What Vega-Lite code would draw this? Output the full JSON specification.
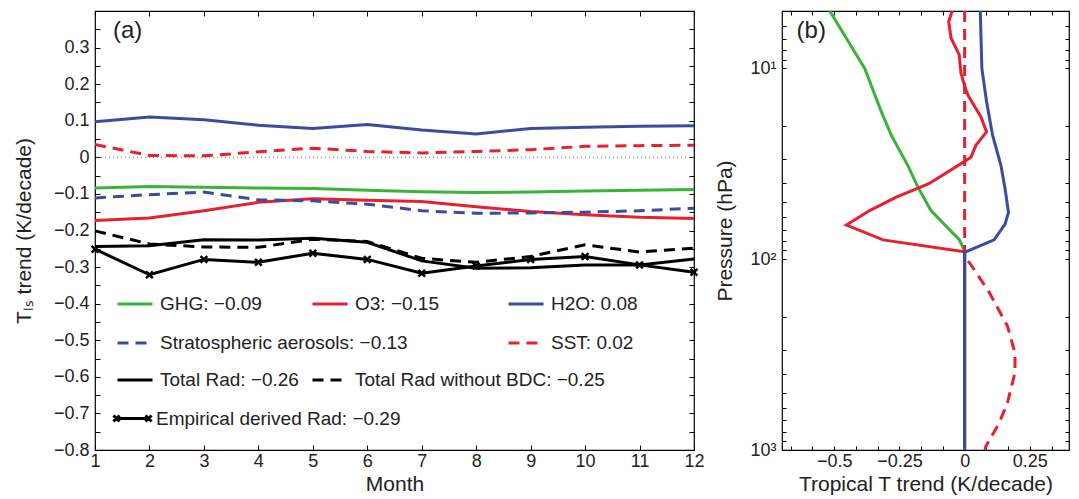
{
  "$schema": "https://vega.github.io/schema/vega-lite/v6.json",
  "padding": {"left": 12, "top": 1, "right": 2, "bottom": 0},
  "config": {
    "font": "Liberation Sans",
    "view": {"stroke": "#000", "strokeWidth": 1.2},
    "axis": {"grid": false, "domain": false, "tickColor": "#000", "tickWidth": 1, "tickSize": -5, "labelPadding": 11, "labelFontSize": 18, "labelColor": "#222", "titleFontSize": 21, "titleFontWeight": "normal", "titleColor": "#222", "labelFlush": false, "labelOverlap": false},
    "legend": {"orient": "none", "padding": 0, "labelFontSize": 19, "labelColor": "#222", "labelLimit": 500, "symbolType": "stroke", "symbolSize": 1225, "symbolStrokeWidth": 3, "labelOffset": 6}
  },
  "datasets": {
    "a": [
      {"s": "GHG: −0.09", "m": 1, "v": -0.084}, {"s": "GHG: −0.09", "m": 2, "v": -0.080}, {"s": "GHG: −0.09", "m": 3, "v": -0.082}, {"s": "GHG: −0.09", "m": 4, "v": -0.084}, {"s": "GHG: −0.09", "m": 5, "v": -0.085}, {"s": "GHG: −0.09", "m": 6, "v": -0.090}, {"s": "GHG: −0.09", "m": 7, "v": -0.094}, {"s": "GHG: −0.09", "m": 8, "v": -0.096}, {"s": "GHG: −0.09", "m": 9, "v": -0.095}, {"s": "GHG: −0.09", "m": 10, "v": -0.092}, {"s": "GHG: −0.09", "m": 11, "v": -0.090}, {"s": "GHG: −0.09", "m": 12, "v": -0.088},
      {"s": "O3: −0.15", "m": 1, "v": -0.173}, {"s": "O3: −0.15", "m": 2, "v": -0.166}, {"s": "O3: −0.15", "m": 3, "v": -0.146}, {"s": "O3: −0.15", "m": 4, "v": -0.123}, {"s": "O3: −0.15", "m": 5, "v": -0.113}, {"s": "O3: −0.15", "m": 6, "v": -0.117}, {"s": "O3: −0.15", "m": 7, "v": -0.121}, {"s": "O3: −0.15", "m": 8, "v": -0.135}, {"s": "O3: −0.15", "m": 9, "v": -0.148}, {"s": "O3: −0.15", "m": 10, "v": -0.157}, {"s": "O3: −0.15", "m": 11, "v": -0.164}, {"s": "O3: −0.15", "m": 12, "v": -0.167},
      {"s": "H2O: 0.08", "m": 1, "v": 0.097}, {"s": "H2O: 0.08", "m": 2, "v": 0.110}, {"s": "H2O: 0.08", "m": 3, "v": 0.103}, {"s": "H2O: 0.08", "m": 4, "v": 0.088}, {"s": "H2O: 0.08", "m": 5, "v": 0.079}, {"s": "H2O: 0.08", "m": 6, "v": 0.090}, {"s": "H2O: 0.08", "m": 7, "v": 0.075}, {"s": "H2O: 0.08", "m": 8, "v": 0.064}, {"s": "H2O: 0.08", "m": 9, "v": 0.079}, {"s": "H2O: 0.08", "m": 10, "v": 0.082}, {"s": "H2O: 0.08", "m": 11, "v": 0.085}, {"s": "H2O: 0.08", "m": 12, "v": 0.086},
      {"s": "Stratospheric aerosols: −0.13", "m": 1, "v": -0.111}, {"s": "Stratospheric aerosols: −0.13", "m": 2, "v": -0.102}, {"s": "Stratospheric aerosols: −0.13", "m": 3, "v": -0.095}, {"s": "Stratospheric aerosols: −0.13", "m": 4, "v": -0.116}, {"s": "Stratospheric aerosols: −0.13", "m": 5, "v": -0.119}, {"s": "Stratospheric aerosols: −0.13", "m": 6, "v": -0.128}, {"s": "Stratospheric aerosols: −0.13", "m": 7, "v": -0.146}, {"s": "Stratospheric aerosols: −0.13", "m": 8, "v": -0.153}, {"s": "Stratospheric aerosols: −0.13", "m": 9, "v": -0.152}, {"s": "Stratospheric aerosols: −0.13", "m": 10, "v": -0.150}, {"s": "Stratospheric aerosols: −0.13", "m": 11, "v": -0.146}, {"s": "Stratospheric aerosols: −0.13", "m": 12, "v": -0.139},
      {"s": "SST: 0.02", "m": 1, "v": 0.035}, {"s": "SST: 0.02", "m": 2, "v": 0.005}, {"s": "SST: 0.02", "m": 3, "v": 0.004}, {"s": "SST: 0.02", "m": 4, "v": 0.015}, {"s": "SST: 0.02", "m": 5, "v": 0.025}, {"s": "SST: 0.02", "m": 6, "v": 0.016}, {"s": "SST: 0.02", "m": 7, "v": 0.012}, {"s": "SST: 0.02", "m": 8, "v": 0.016}, {"s": "SST: 0.02", "m": 9, "v": 0.021}, {"s": "SST: 0.02", "m": 10, "v": 0.030}, {"s": "SST: 0.02", "m": 11, "v": 0.032}, {"s": "SST: 0.02", "m": 12, "v": 0.033},
      {"s": "Total Rad: −0.26", "m": 1, "v": -0.244}, {"s": "Total Rad: −0.26", "m": 2, "v": -0.242}, {"s": "Total Rad: −0.26", "m": 3, "v": -0.225}, {"s": "Total Rad: −0.26", "m": 4, "v": -0.226}, {"s": "Total Rad: −0.26", "m": 5, "v": -0.221}, {"s": "Total Rad: −0.26", "m": 6, "v": -0.232}, {"s": "Total Rad: −0.26", "m": 7, "v": -0.283}, {"s": "Total Rad: −0.26", "m": 8, "v": -0.303}, {"s": "Total Rad: −0.26", "m": 9, "v": -0.302}, {"s": "Total Rad: −0.26", "m": 10, "v": -0.294}, {"s": "Total Rad: −0.26", "m": 11, "v": -0.294}, {"s": "Total Rad: −0.26", "m": 12, "v": -0.278},
      {"s": "Total Rad without BDC: −0.25", "m": 1, "v": -0.201}, {"s": "Total Rad without BDC: −0.25", "m": 2, "v": -0.237}, {"s": "Total Rad without BDC: −0.25", "m": 3, "v": -0.245}, {"s": "Total Rad without BDC: −0.25", "m": 4, "v": -0.246}, {"s": "Total Rad without BDC: −0.25", "m": 5, "v": -0.224}, {"s": "Total Rad without BDC: −0.25", "m": 6, "v": -0.230}, {"s": "Total Rad without BDC: −0.25", "m": 7, "v": -0.276}, {"s": "Total Rad without BDC: −0.25", "m": 8, "v": -0.287}, {"s": "Total Rad without BDC: −0.25", "m": 9, "v": -0.271}, {"s": "Total Rad without BDC: −0.25", "m": 10, "v": -0.239}, {"s": "Total Rad without BDC: −0.25", "m": 11, "v": -0.259}, {"s": "Total Rad without BDC: −0.25", "m": 12, "v": -0.248},
      {"s": "Empirical derived Rad: −0.29", "m": 1, "v": -0.251}, {"s": "Empirical derived Rad: −0.29", "m": 2, "v": -0.321}, {"s": "Empirical derived Rad: −0.29", "m": 3, "v": -0.279}, {"s": "Empirical derived Rad: −0.29", "m": 4, "v": -0.287}, {"s": "Empirical derived Rad: −0.29", "m": 5, "v": -0.262}, {"s": "Empirical derived Rad: −0.29", "m": 6, "v": -0.279}, {"s": "Empirical derived Rad: −0.29", "m": 7, "v": -0.317}, {"s": "Empirical derived Rad: −0.29", "m": 8, "v": -0.297}, {"s": "Empirical derived Rad: −0.29", "m": 9, "v": -0.279}, {"s": "Empirical derived Rad: −0.29", "m": 10, "v": -0.271}, {"s": "Empirical derived Rad: −0.29", "m": 11, "v": -0.294}, {"s": "Empirical derived Rad: −0.29", "m": 12, "v": -0.314}
    ],
    "b": [
      {"s": "GHG", "p": 5, "t": -0.517}, {"s": "GHG", "p": 10, "t": -0.383}, {"s": "GHG", "p": 16.9, "t": -0.319}, {"s": "GHG", "p": 22.4, "t": -0.281}, {"s": "GHG", "p": 32.2, "t": -0.218}, {"s": "GHG", "p": 41.9, "t": -0.179}, {"s": "GHG", "p": 55.6, "t": -0.129}, {"s": "GHG", "p": 79.2, "t": -0.02}, {"s": "GHG", "p": 90.3, "t": 0}, {"s": "GHG", "p": 1000, "t": 0},
      {"s": "O3", "p": 5, "t": -0.048}, {"s": "O3", "p": 5.68, "t": -0.061}, {"s": "O3", "p": 6.95, "t": -0.052}, {"s": "O3", "p": 8.47, "t": -0.021}, {"s": "O3", "p": 10.6, "t": -0.014}, {"s": "O3", "p": 13.0, "t": 0.005}, {"s": "O3", "p": 14.1, "t": 0.016}, {"s": "O3", "p": 17.9, "t": 0.062}, {"s": "O3", "p": 21.5, "t": 0.084}, {"s": "O3", "p": 25.3, "t": 0.043}, {"s": "O3", "p": 29.2, "t": 0.024}, {"s": "O3", "p": 30.7, "t": 0}, {"s": "O3", "p": 40.2, "t": -0.137}, {"s": "O3", "p": 47.3, "t": -0.262}, {"s": "O3", "p": 55.6, "t": -0.364}, {"s": "O3", "p": 66.2, "t": -0.453}, {"s": "O3", "p": 79.2, "t": -0.313}, {"s": "O3", "p": 91.4, "t": 0}, {"s": "O3", "p": 1000, "t": 0},
      {"s": "H2O", "p": 5, "t": 0.06}, {"s": "H2O", "p": 10, "t": 0.066}, {"s": "H2O", "p": 14.9, "t": 0.084}, {"s": "H2O", "p": 22.4, "t": 0.107}, {"s": "H2O", "p": 32.2, "t": 0.139}, {"s": "H2O", "p": 42.7, "t": 0.155}, {"s": "H2O", "p": 56.9, "t": 0.168}, {"s": "H2O", "p": 65.4, "t": 0.155}, {"s": "H2O", "p": 79.2, "t": 0.113}, {"s": "H2O", "p": 92, "t": 0}, {"s": "H2O", "p": 1000, "t": 0},
      {"s": "SST", "p": 5, "t": 0}, {"s": "SST", "p": 100, "t": 0}, {"s": "SST", "p": 104, "t": 0.018}, {"s": "SST", "p": 149, "t": 0.094}, {"s": "SST", "p": 224, "t": 0.164}, {"s": "SST", "p": 311, "t": 0.193}, {"s": "SST", "p": 393, "t": 0.193}, {"s": "SST", "p": 566, "t": 0.164}, {"s": "SST", "p": 723, "t": 0.132}, {"s": "SST", "p": 958, "t": 0.081}, {"s": "SST", "p": 1000, "t": 0.078}
    ]
  },
  "spacing": 9,
  "hconcat": [
    {
      "width": 599, "height": 439,
      "data": {"name": "a"},
      "resolve": {"axis": {"x": "independent", "y": "independent"}, "scale": {"color": "independent"}},
      "layer": [
        {"data": {"values": [{}]}, "mark": {"type": "rule", "strokeDash": [1, 3], "color": "#777", "strokeWidth": 1},
         "encoding": {"y": {"datum": 0, "type": "quantitative", "scale": {"domain": [-0.8, 0.4], "nice": false, "zero": false}, "axis": null}}},
        {"transform": [{"filter": {"field": "s", "equal": "GHG: −0.09"}}], "mark": {"type": "line", "strokeWidth": 3},
         "encoding": {
           "x": {"field": "m", "type": "quantitative", "scale": {"domain": [1, 12], "nice": false, "zero": false}, "axis": {"values": [1,2,3,4,5,6,7,8,9,10,11,12], "title": "Month", "titlePadding": 3, "labelPadding": 7}},
           "y": {"field": "v", "type": "quantitative", "scale": {"domain": [-0.8, 0.4], "nice": false, "zero": false}, "axis": {"values": [-0.8,-0.75,-0.7,-0.65,-0.6,-0.55,-0.5,-0.45,-0.4,-0.35,-0.3,-0.25,-0.2,-0.15,-0.1,-0.05,0,0.05,0.1,0.15,0.2,0.25,0.3,0.35], "labelExpr": "abs(datum.value*10 - round(datum.value*10)) < 0.001 ? format(datum.value, '~g') : ''", "title": "Tₗₛ trend (K/decade)", "titlePadding": 19}},
           "color": {"field": "s", "type": "nominal", "scale": {"domain": ["GHG: −0.09"], "range": ["#38b538"]}, "legend": {"title": null, "legendX": 21, "legendY": 274}}}},
        {"transform": [{"filter": {"field": "s", "equal": "O3: −0.15"}}], "mark": {"type": "line", "strokeWidth": 3},
         "encoding": {
           "x": {"field": "m", "type": "quantitative", "scale": {"domain": [1, 12], "nice": false, "zero": false}, "axis": null},
           "y": {"field": "v", "type": "quantitative", "scale": {"domain": [-0.8, 0.4], "nice": false, "zero": false}, "axis": null},
           "color": {"field": "s", "type": "nominal", "scale": {"domain": ["O3: −0.15"], "range": ["#e6202e"]}, "legend": {"title": null, "legendX": 216, "legendY": 274}}}},
        {"transform": [{"filter": {"field": "s", "equal": "H2O: 0.08"}}], "mark": {"type": "line", "strokeWidth": 3},
         "encoding": {
           "x": {"field": "m", "type": "quantitative", "scale": {"domain": [1, 12], "nice": false, "zero": false}, "axis": null},
           "y": {"field": "v", "type": "quantitative", "scale": {"domain": [-0.8, 0.4], "nice": false, "zero": false}, "axis": null},
           "color": {"field": "s", "type": "nominal", "scale": {"domain": ["H2O: 0.08"], "range": ["#3a4ca0"]}, "legend": {"title": null, "legendX": 412, "legendY": 274}}}},
        {"transform": [{"filter": {"field": "s", "equal": "Stratospheric aerosols: −0.13"}}], "mark": {"type": "line", "strokeWidth": 3, "strokeDash": [11, 7]},
         "encoding": {
           "x": {"field": "m", "type": "quantitative", "scale": {"domain": [1, 12], "nice": false, "zero": false}, "axis": null},
           "y": {"field": "v", "type": "quantitative", "scale": {"domain": [-0.8, 0.4], "nice": false, "zero": false}, "axis": null},
           "color": {"field": "s", "type": "nominal", "scale": {"domain": ["Stratospheric aerosols: −0.13"], "range": ["#3a4ca0"]}, "legend": {"title": null, "legendX": 21, "legendY": 313, "symbolDash": [11, 7]}}}},
        {"transform": [{"filter": {"field": "s", "equal": "SST: 0.02"}}], "mark": {"type": "line", "strokeWidth": 3, "strokeDash": [11, 7]},
         "encoding": {
           "x": {"field": "m", "type": "quantitative", "scale": {"domain": [1, 12], "nice": false, "zero": false}, "axis": null},
           "y": {"field": "v", "type": "quantitative", "scale": {"domain": [-0.8, 0.4], "nice": false, "zero": false}, "axis": null},
           "color": {"field": "s", "type": "nominal", "scale": {"domain": ["SST: 0.02"], "range": ["#e6202e"]}, "legend": {"title": null, "legendX": 412, "legendY": 313, "symbolDash": [11, 7]}}}},
        {"transform": [{"filter": {"field": "s", "equal": "Total Rad without BDC: −0.25"}}], "mark": {"type": "line", "strokeWidth": 3, "strokeDash": [11, 7]},
         "encoding": {
           "x": {"field": "m", "type": "quantitative", "scale": {"domain": [1, 12], "nice": false, "zero": false}, "axis": null},
           "y": {"field": "v", "type": "quantitative", "scale": {"domain": [-0.8, 0.4], "nice": false, "zero": false}, "axis": null},
           "color": {"field": "s", "type": "nominal", "scale": {"domain": ["Total Rad without BDC: −0.25"], "range": ["#000000"]}, "legend": {"title": null, "legendX": 216, "legendY": 350, "symbolDash": [11, 7]}}}},
        {"transform": [{"filter": {"field": "s", "equal": "Total Rad: −0.26"}}], "mark": {"type": "line", "strokeWidth": 3},
         "encoding": {
           "x": {"field": "m", "type": "quantitative", "scale": {"domain": [1, 12], "nice": false, "zero": false}, "axis": null},
           "y": {"field": "v", "type": "quantitative", "scale": {"domain": [-0.8, 0.4], "nice": false, "zero": false}, "axis": null},
           "color": {"field": "s", "type": "nominal", "scale": {"domain": ["Total Rad: −0.26"], "range": ["#000000"]}, "legend": {"title": null, "legendX": 21, "legendY": 350}}}},
        {"transform": [{"filter": {"field": "s", "equal": "Empirical derived Rad: −0.29"}}], "mark": {"type": "line", "strokeWidth": 3},
         "encoding": {
           "x": {"field": "m", "type": "quantitative", "scale": {"domain": [1, 12], "nice": false, "zero": false}, "axis": null},
           "y": {"field": "v", "type": "quantitative", "scale": {"domain": [-0.8, 0.4], "nice": false, "zero": false}, "axis": null},
           "color": {"field": "s", "type": "nominal", "scale": {"domain": ["Empirical derived Rad: −0.29"], "range": ["#000000"]}, "legend": {"title": null, "legendX": 20, "legendY": 390, "symbolSize": 1024, "symbolType": "M-1,0L1,0M-1.19,-0.19L-0.81,0.19M-1.19,0.19L-0.81,-0.19M0.81,-0.19L1.19,0.19M0.81,0.19L1.19,-0.19"}}}},
        {"transform": [{"filter": {"field": "s", "equal": "Empirical derived Rad: −0.29"}}], "mark": {"type": "point", "shape": "M-1,-1L1,1M-1,1L1,-1", "filled": false, "size": 45, "strokeWidth": 2.5, "color": "#000", "opacity": 1},
         "encoding": {
           "x": {"field": "m", "type": "quantitative", "scale": {"domain": [1, 12], "nice": false, "zero": false}, "axis": null},
           "y": {"field": "v", "type": "quantitative", "scale": {"domain": [-0.8, 0.4], "nice": false, "zero": false}, "axis": null}}},
        {"data": {"values": [{"label": "(a)"}]}, "mark": {"type": "text", "fontSize": 24, "align": "left", "baseline": "middle", "color": "#222"},
         "encoding": {
           "text": {"field": "label"},
           "x": {"datum": 1.33, "type": "quantitative", "scale": {"domain": [1, 12], "nice": false, "zero": false}, "axis": {"orient": "top", "values": [1,2,3,4,5,6,7,8,9,10,11,12], "labels": false, "title": null}},
           "y": {"datum": 0.345, "type": "quantitative", "scale": {"domain": [-0.8, 0.4], "nice": false, "zero": false}, "axis": {"orient": "right", "values": [-0.8,-0.75,-0.7,-0.65,-0.6,-0.55,-0.5,-0.45,-0.4,-0.35,-0.3,-0.25,-0.2,-0.15,-0.1,-0.05,0,0.05,0.1,0.15,0.2,0.25,0.3,0.35], "labels": false, "title": null}}}}
      ]
    },
    {
      "width": 287, "height": 439,
      "data": {"name": "b"},
      "resolve": {"axis": {"x": "independent", "y": "independent"}},
      "layer": [
        {"transform": [{"filter": {"field": "s", "equal": "GHG"}}], "mark": {"type": "line", "strokeWidth": 3, "color": "#38b538"},
         "encoding": {
           "x": {"field": "t", "type": "quantitative", "scale": {"domain": [-0.7, 0.4], "nice": false, "zero": false}, "axis": {"values": [-0.6667,-0.5833,-0.5,-0.4167,-0.3333,-0.25,-0.1667,-0.0833,0,0.0833,0.1667,0.25,0.3333], "labelExpr": "abs(datum.value*4 - round(datum.value*4)) < 0.001 ? format(datum.value, '~g') : ''", "title": "Tropical T trend (K/decade)", "titlePadding": 3, "labelPadding": 6, "tickSize": -4}},
           "y": {"field": "p", "type": "quantitative", "scale": {"type": "log", "domain": [5, 1000], "nice": false, "reverse": true}, "axis": {"values": [5,6,7,8,9,10,20,30,40,50,60,70,80,90,100,200,300,400,500,600,700,800,900,1000], "labelExpr": "datum.value == 10 ? '10¹' : datum.value == 100 ? '10²' : datum.value == 1000 ? '10³' : ''", "title": "Pressure (hPa)", "titlePadding": 14, "tickSize": -4, "labelPadding": 10}},
           "order": {"field": "p", "type": "quantitative"}}},
        {"transform": [{"filter": {"field": "s", "equal": "O3"}}], "mark": {"type": "line", "strokeWidth": 3, "color": "#e6202e"},
         "encoding": {
           "x": {"field": "t", "type": "quantitative", "scale": {"domain": [-0.7, 0.4], "nice": false, "zero": false}, "axis": null},
           "y": {"field": "p", "type": "quantitative", "scale": {"type": "log", "domain": [5, 1000], "nice": false, "reverse": true}, "axis": null},
           "order": {"field": "p", "type": "quantitative"}}},
        {"transform": [{"filter": {"field": "s", "equal": "SST"}}], "mark": {"type": "line", "strokeWidth": 3, "color": "#e6202e", "strokeDash": [11, 7]},
         "encoding": {
           "x": {"field": "t", "type": "quantitative", "scale": {"domain": [-0.7, 0.4], "nice": false, "zero": false}, "axis": null},
           "y": {"field": "p", "type": "quantitative", "scale": {"type": "log", "domain": [5, 1000], "nice": false, "reverse": true}, "axis": null},
           "order": {"field": "p", "type": "quantitative"}}},
        {"transform": [{"filter": {"field": "s", "equal": "H2O"}}], "mark": {"type": "line", "strokeWidth": 3, "color": "#3a4ca0"},
         "encoding": {
           "x": {"field": "t", "type": "quantitative", "scale": {"domain": [-0.7, 0.4], "nice": false, "zero": false}, "axis": null},
           "y": {"field": "p", "type": "quantitative", "scale": {"type": "log", "domain": [5, 1000], "nice": false, "reverse": true}, "axis": null},
           "order": {"field": "p", "type": "quantitative"}}},
        {"data": {"values": [{"label": "(b)"}]}, "mark": {"type": "text", "fontSize": 24, "align": "left", "baseline": "middle", "color": "#222"},
         "encoding": {
           "text": {"field": "label"},
           "x": {"datum": -0.644, "type": "quantitative", "scale": {"domain": [-0.7, 0.4], "nice": false, "zero": false}, "axis": {"orient": "top", "values": [-0.6667,-0.5833,-0.5,-0.4167,-0.3333,-0.25,-0.1667,-0.0833,0,0.0833,0.1667,0.25,0.3333], "labels": false, "title": null, "tickSize": -4}},
           "y": {"datum": 6.4, "type": "quantitative", "scale": {"type": "log", "domain": [5, 1000], "nice": false, "reverse": true}, "axis": {"orient": "right", "values": [5,6,7,8,9,10,20,30,40,50,60,70,80,90,100,200,300,400,500,600,700,800,900,1000], "labels": false, "title": null, "tickSize": -4}}}}
      ]
    }
  ]
}
